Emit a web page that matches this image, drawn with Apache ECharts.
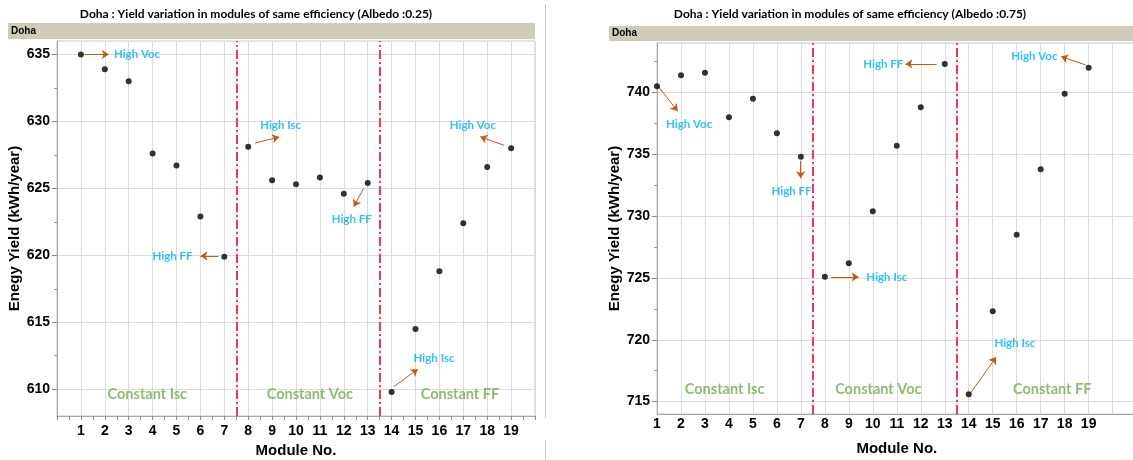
<!DOCTYPE html>
<html>
<head>
<meta charset="utf-8">
<script src="https://cdn.jsdelivr.net/npm/echarts@6/dist/echarts.min.js"></script>
<style>
  html, body { margin: 0; padding: 0; background: #ffffff; }
  #chart { width: 1133px; height: 460px; }
</style>
</head>
<body>
<div id="chart"></div>
<script>
// Module numbers on the x axis
const modules = [1, 2, 3, 4, 5, 6, 7, 8, 9, 10, 11, 12, 13, 14, 15, 16, 17, 18, 19];

// Annual energy yield (kWh/year) per module, Doha
const yieldAlbedo025 = [635.0, 633.9, 633.0, 627.6, 626.7, 622.9, 619.9,
                        628.1, 625.6, 625.3, 625.8, 624.6, 625.4,
                        609.8, 614.5, 618.8, 622.4, 626.6, 628.0];
const yieldAlbedo075 = [740.5, 741.4, 741.6, 738.0, 739.5, 736.7, 734.8,
                        725.1, 726.2, 730.4, 735.7, 738.8, 742.3,
                        715.6, 722.3, 728.5, 733.8, 739.9, 742.0];

// Group separators and group names
const groupBoundaries = [7.5, 13.5];
const groupNames = ['Constant Isc', 'Constant Voc', 'Constant FF'];

// Y-axis tick values
const ticksLeftMajor = [610, 615, 620, 625, 630, 635];
const ticksLeftMinor = [612.5, 617.5, 622.5, 627.5, 632.5];
const ticksRightMajor = [715, 720, 725, 730, 735, 740];
const ticksRightMinor = [717.5, 722.5, 727.5, 732.5, 737.5, 742.5];

// Callouts: text, text anchor, alignment, arrow start/end (data units)
const notesLeft = [
  { text: 'High Voc', at: [2.38, 635.0],  align: 'left',   from: [1.17, 635.0],   to: [2.17, 635.0] },
  { text: 'High Isc', at: [8.50, 629.72], align: 'left',   from: [8.29, 628.38],  to: [9.30, 628.83] },
  { text: 'High FF',  at: [5.67, 619.95], align: 'right',  from: [6.75, 619.95],  to: [6.00, 619.95] },
  { text: 'High FF',  at: [12.33, 622.7], align: 'center', from: [12.83, 625.0],  to: [12.42, 623.63] },
  { text: 'High Voc', at: [17.40, 629.72], align: 'center', from: [18.71, 628.21], to: [17.71, 628.85] },
  { text: 'High Isc', at: [14.92, 612.34], align: 'left',  from: [14.10, 610.2],  to: [15.10, 611.5] }
];
const notesRight = [
  { text: 'High Voc', at: [1.375, 737.42], align: 'left',  from: [1.07, 740.45],  to: [1.86, 738.49] },
  { text: 'High FF',  at: [6.61, 731.98],  align: 'center', from: [6.99, 734.48], to: [6.99, 733.06] },
  { text: 'High Isc', at: [9.73, 725.08],  align: 'left',  from: [8.26, 725.08],  to: [9.41, 725.08] },
  { text: 'High FF',  at: [11.27, 742.31], align: 'right', from: [12.65, 742.31], to: [11.36, 742.31] },
  { text: 'High Voc', at: [17.70, 742.95], align: 'right', from: [18.87, 742.23], to: [17.85, 742.90] },
  { text: 'High Isc', at: [15.07, 719.68], align: 'left',  from: [14.09, 715.73], to: [15.14, 718.60] }
];
const groupLabelLeft = { y: 609.65, x: [3.78, 10.58, 16.86] };
const groupLabelRight = { y: 716.0, x: [3.82, 10.23, 17.48] };

const NARROW = '"Liberation Sans Narrow", "Arial Narrow", "Liberation Sans", sans-serif';
const SANS = '"Liberation Sans", Arial, sans-serif';
const NOTE = 'Lato, "Open Sans", sans-serif';

const gridLine = '#dbdbdb';
const axisGrey = '#a6a6a6';

function xAxisDef(grid, min, max, showTicks, labelMargin, nameGap) {
  return {
    type: 'value', gridIndex: grid, min: min, max: max, interval: 1,
    name: 'Module No.', nameLocation: 'middle', nameGap: nameGap,
    nameTextStyle: { fontFamily: SANS, fontWeight: 'bold', fontSize: 15, color: '#000' },
    axisLine: { show: true, onZero: false, lineStyle: { color: axisGrey } },
    axisTick: { show: showTicks, length: 4, lineStyle: { color: '#888' } },
    minorTick: { show: showTicks, splitNumber: 2, length: 4, lineStyle: { color: '#888' } },
    axisLabel: {
      margin: labelMargin, fontFamily: NARROW, fontWeight: 'bold', fontSize: 14, color: '#000',
      formatter: v => (v >= 1 && v <= 19) ? String(v) : ''
    },
    splitLine: { show: true, lineStyle: { color: gridLine } }
  };
}

function yAxisMain(grid, min, max, major, nameGap) {
  return {
    type: 'value', gridIndex: grid, min: min, max: max,
    name: 'Enegy Yield (kWh/year)', nameLocation: 'middle', nameGap: nameGap, nameRotate: 90,
    nameTextStyle: { fontFamily: SANS, fontWeight: 'bold', fontSize: 15, color: '#000' },
    axisLine: { show: true, lineStyle: { color: axisGrey } },
    axisTick: { show: true, length: 5, customValues: major, lineStyle: { color: '#888' } },
    axisLabel: {
      customValues: major, margin: 7,
      fontFamily: NARROW, fontWeight: 'bold', fontSize: 14, color: '#000',
      formatter: v => (v % 5 === 0) ? String(v) : ''
    },
    splitLine: { show: true, lineStyle: { color: gridLine } }
  };
}

// Overlay axis carrying only the half-step minor ticks
function yAxisMinor(grid, min, max, minor) {
  return {
    type: 'value', gridIndex: grid, min: min, max: max, position: 'left',
    axisLine: { show: false },
    axisTick: { show: true, length: 3, customValues: minor, lineStyle: { color: '#999' } },
    axisLabel: { show: false },
    splitLine: { show: false }
  };
}

function pointSeries(xi, yi, values) {
  return {
    type: 'scatter', xAxisIndex: xi, yAxisIndex: yi,
    symbol: 'circle', symbolSize: 6,
    itemStyle: { color: '#000' },
    data: modules.map((m, i) => [m, values[i]]),
    markLine: {
      silent: true, symbol: 'none', animation: false,
      label: { show: false },
      lineStyle: { color: '#f2385a', width: 2, type: [9, 3, 2, 3] },
      data: groupBoundaries.map(b => ({ xAxis: b }))
    },
    z: 5
  };
}

function noteSeries(xi, yi, notes, groups) {
  const data = notes.map(n => ({
    value: n.at, name: n.text,
    label: { align: n.align, color: '#00b0f0', fontSize: 11.5, fontWeight: 'bold', fontFamily: NOTE }
  }));
  groups.x.forEach((gx, i) => {
    data.push({
      value: [gx, groups.y], name: groupNames[i],
      label: { align: 'center', color: '#70ad47', fontSize: 14.5, fontWeight: 'bold', fontFamily: NOTE }
    });
  });
  return {
    type: 'scatter', xAxisIndex: xi, yAxisIndex: yi,
    symbolSize: 0, silent: true,
    label: { show: true, position: 'inside', verticalAlign: 'middle', formatter: p => p.name },
    data: data,
    markLine: {
      silent: true, animation: false,
      symbol: ['none', 'arrow'], symbolSize: 7,
      label: { show: false },
      lineStyle: { color: '#c55a11', width: 1, type: 'solid' },
      emphasis: { disabled: true },
      data: notes.map(n => [{ coord: n.from }, { coord: n.to }])
    },
    z: 4
  };
}

const chart = echarts.init(document.getElementById('chart'), null, { renderer: 'canvas' });

const headerFont = 'bold 10px "Liberation Sans", Arial, sans-serif';
const titleFont = 'bold 12px Lato, sans-serif';

chart.setOption({
  animation: false,
  backgroundColor: '#ffffff',
  grid: [
    { left: 57, top: 41, width: 478, height: 375, show: true, borderColor: '#c8c8c8', borderWidth: 1,
      containLabel: false, outerBoundsMode: 'none' },
    { left: 657, top: 43, width: 479.6, height: 371, show: true, borderColor: '#c8c8c8', borderWidth: 1,
      containLabel: false, outerBoundsMode: 'none' }
  ],
  xAxis: [
    xAxisDef(0, 0, 20, true, 8, 25),
    xAxisDef(1, 1, 21, false, 3, 27)
  ],
  yAxis: [
    yAxisMain(0, 608, 636, ticksLeftMajor, 33),
    yAxisMinor(0, 608, 636, ticksLeftMinor),
    yAxisMain(1, 714, 744, ticksRightMajor, 32),
    yAxisMinor(1, 714, 744, ticksRightMinor)
  ],
  series: [
    pointSeries(0, 0, yieldAlbedo025),
    noteSeries(0, 0, notesLeft, groupLabelLeft),
    pointSeries(1, 2, yieldAlbedo075),
    noteSeries(1, 2, notesRight, groupLabelRight)
  ],
  graphic: [
    // panel header strips
    { type: 'rect', shape: { x: 8, y: 23, width: 527, height: 16 }, style: { fill: '#cfccbc' }, z: -1, silent: true },
    { type: 'text', x: 11, y: 31, style: { text: 'Doha', fill: '#000', font: headerFont, verticalAlign: 'middle' }, silent: true },
    { type: 'rect', shape: { x: 609, y: 26, width: 530, height: 15 }, style: { fill: '#cfccbc' }, z: -1, silent: true },
    { type: 'text', x: 612, y: 33.5, style: { text: 'Doha', fill: '#000', font: headerFont, verticalAlign: 'middle' }, silent: true },
    // panel titles
    { type: 'text', x: 256, y: 14, style: { text: 'Doha : Yield variation in modules of same efficiency (Albedo :0.25)', fill: '#000', font: titleFont, align: 'center', verticalAlign: 'middle' }, silent: true },
    { type: 'text', x: 850, y: 14, style: { text: 'Doha : Yield variation in modules of same efficiency (Albedo :0.75)', fill: '#000', font: titleFont, align: 'center', verticalAlign: 'middle' }, silent: true },
    // divider between the two panels
    { type: 'line', shape: { x1: 545.5, y1: 4, x2: 545.5, y2: 418 }, style: { stroke: '#c8c8c8', lineWidth: 1 }, silent: true },
    { type: 'line', shape: { x1: 545.5, y1: 440, x2: 545.5, y2: 460 }, style: { stroke: '#c8c8c8', lineWidth: 1 }, silent: true }
  ]
});
</script>
</body>
</html>
